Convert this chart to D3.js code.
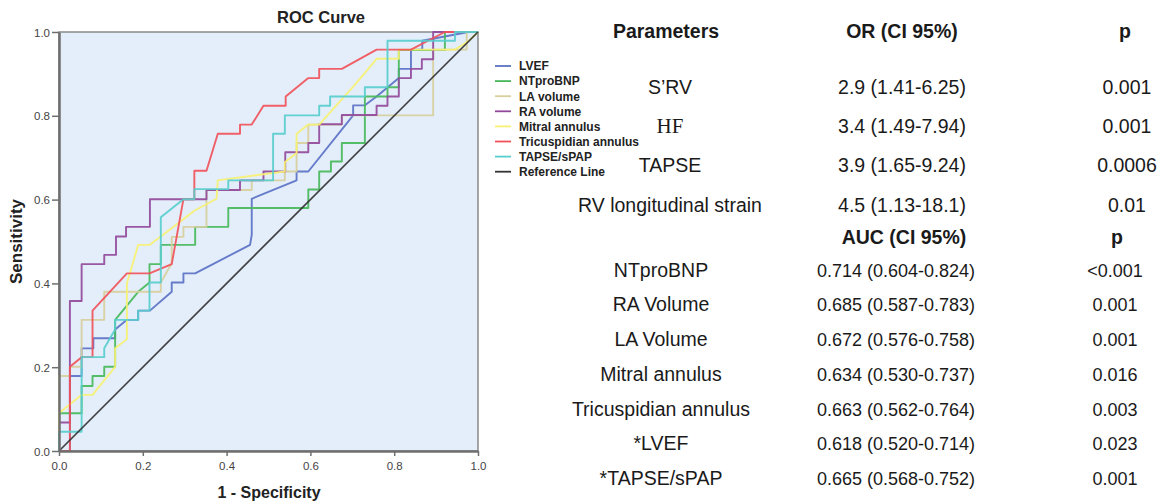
<!DOCTYPE html>
<html>
<head>
<meta charset="utf-8">
<script src="https://cdn.jsdelivr.net/npm/d3@7/dist/d3.min.js"></script>
<style>
  html, body { margin: 0; padding: 0; background: #fff; }
  svg { display: block; font-family: "Liberation Sans", Arial, sans-serif; }
</style>
</head>
<body>
<svg id="chart" width="1164" height="502"></svg>
<script>
// ROC curve points, [1 - specificity, sensitivity]
const lvef = [[0,0],[0.026,0],[0.026,0.179],[0.054,0.179],[0.054,0.245],[0.082,0.245],[0.082,0.269],[0.134,0.269],[0.134,0.290],[0.162,0.313],[0.189,0.313],[0.189,0.335],[0.217,0.335],[0.269,0.380],[0.269,0.402],[0.297,0.402],[0.297,0.424],[0.325,0.424],[0.456,0.492],[0.460,0.516],[0.460,0.602],[0.567,0.646],[0.567,0.667],[0.595,0.667],[0.702,0.801],[0.702,0.825],[0.730,0.825],[0.758,0.846],[0.811,0.890],[0.811,0.912],[0.840,0.912],[0.840,0.958],[0.867,0.958],[0.867,0.979],[0.977,1],[1,1]];
const ntprobnp = [[0,0],[0,0.090],[0.054,0.090],[0.054,0.155],[0.080,0.155],[0.080,0.179],[0.108,0.179],[0.108,0.201],[0.134,0.201],[0.134,0.313],[0.189,0.380],[0.216,0.402],[0.216,0.446],[0.243,0.446],[0.243,0.492],[0.325,0.492],[0.325,0.535],[0.404,0.535],[0.404,0.580],[0.595,0.580],[0.595,0.624],[0.621,0.624],[0.621,0.667],[0.649,0.667],[0.649,0.691],[0.675,0.691],[0.675,0.735],[0.730,0.735],[0.730,0.846],[0.784,0.846],[0.784,0.868],[0.811,0.868],[0.811,0.957],[0.921,0.957],[0.921,1],[1,1]];
const laVolume = [[0,0],[0,0.179],[0.026,0.179],[0.026,0.201],[0.054,0.201],[0.054,0.313],[0.108,0.313],[0.108,0.380],[0.243,0.380],[0.243,0.402],[0.269,0.448],[0.269,0.511],[0.297,0.511],[0.297,0.535],[0.352,0.535],[0.352,0.623],[0.460,0.623],[0.460,0.646],[0.539,0.646],[0.539,0.667],[0.567,0.667],[0.567,0.735],[0.595,0.735],[0.595,0.779],[0.675,0.779],[0.675,0.801],[0.893,0.801],[0.893,0.958],[0.973,0.958],[0.973,1],[1,1]];
const raVolume = [[0,0],[0,0.068],[0.026,0.068],[0.026,0.358],[0.054,0.358],[0.054,0.446],[0.108,0.446],[0.108,0.468],[0.136,0.468],[0.136,0.512],[0.160,0.512],[0.160,0.535],[0.217,0.535],[0.217,0.601],[0.352,0.601],[0.352,0.623],[0.432,0.623],[0.432,0.646],[0.488,0.646],[0.488,0.667],[0.540,0.667],[0.540,0.713],[0.595,0.713],[0.595,0.735],[0.621,0.735],[0.621,0.780],[0.675,0.780],[0.675,0.802],[0.758,0.802],[0.758,0.824],[0.784,0.824],[0.784,0.846],[0.811,0.846],[0.811,0.890],[0.840,0.890],[0.840,0.912],[0.866,0.912],[0.866,0.935],[0.893,0.935],[0.893,1],[1,1]];
const mitralAnnulus = [[0,0],[0,0.090],[0.054,0.134],[0.080,0.134],[0.134,0.201],[0.134,0.245],[0.162,0.267],[0.162,0.400],[0.189,0.492],[0.217,0.492],[0.324,0.574],[0.376,0.602],[0.379,0.646],[0.539,0.667],[0.539,0.689],[0.567,0.711],[0.567,0.757],[0.595,0.779],[0.621,0.779],[0.671,0.835],[0.706,0.874],[0.758,0.936],[0.811,0.936],[0.811,0.958],[0.945,0.958],[0.977,0.978],[1,1]];
const tricuspidAnnulus = [[0,0],[0.026,0],[0.026,0.201],[0.054,0.224],[0.080,0.224],[0.080,0.335],[0.162,0.424],[0.216,0.424],[0.269,0.446],[0.297,0.601],[0.323,0.601],[0.323,0.669],[0.352,0.669],[0.379,0.757],[0.432,0.757],[0.432,0.779],[0.460,0.779],[0.488,0.824],[0.541,0.824],[0.541,0.846],[0.595,0.890],[0.621,0.890],[0.621,0.912],[0.675,0.912],[0.758,0.958],[0.840,0.958],[0.921,1],[1,1]];
const tapseSpap = [[0,0],[0,0.046],[0.054,0.046],[0.054,0.224],[0.108,0.224],[0.108,0.245],[0.134,0.290],[0.134,0.313],[0.189,0.313],[0.189,0.335],[0.216,0.335],[0.216,0.402],[0.243,0.402],[0.243,0.558],[0.297,0.601],[0.323,0.601],[0.323,0.625],[0.404,0.625],[0.404,0.646],[0.511,0.646],[0.511,0.757],[0.539,0.757],[0.539,0.801],[0.621,0.801],[0.621,0.824],[0.647,0.824],[0.647,0.846],[0.730,0.846],[0.730,0.868],[0.784,0.868],[0.784,0.979],[0.945,0.979],[0.945,1],[1,1]];
const referenceLine = [[0,0],[1,1]];

const seriesNames = ["LVEF","NTproBNP","LA volume","RA volume","Mitral annulus","Tricuspidian annulus","TAPSE/sPAP","Reference Line"];
const seriesData = [lvef, ntprobnp, laVolume, raVolume, mitralAnnulus, tricuspidAnnulus, tapseSpap, referenceLine];
const seriesColors = ["#5b71c6","#46b85a","#d7cf9d","#93499b","#f7f172","#f1525a","#58cdcd","#333333"];

const axisTicks = [0, 0.2, 0.4, 0.6, 0.8, 1.0];

// Odds ratio table
const orParams = ["S\u2019RV","HF","TAPSE","RV longitudinal strain"];
const orValues = ["2.9 (1.41-6.25)","3.4 (1.49-7.94)","3.9 (1.65-9.24)","4.5 (1.13-18.1)"];
const orP = ["0.001","0.001","0.0006","0.01"];

// AUC table
const aucParams = ["NTproBNP","RA Volume","LA Volume","Mitral annulus","Tricuspidian annulus","*LVEF","*TAPSE/sPAP"];
const aucValues = ["0.714 (0.604-0.824)","0.685 (0.587-0.783)","0.672 (0.576-0.758)","0.634 (0.530-0.737)","0.663 (0.562-0.764)","0.618 (0.520-0.714)","0.665 (0.568-0.752)"];
const aucP = ["<0.001","0.001","0.001","0.016","0.003","0.023","0.001"];

const svg = d3.select("#chart");

const plot = { left: 59, right: 478, top: 32, bottom: 451 };
const x = d3.scaleLinear().domain([0, 1]).range([plot.left, plot.right]);
const y = d3.scaleLinear().domain([0, 1]).range([plot.bottom, plot.top]);

// plot background and frame
svg.append("rect")
  .attr("x", plot.left).attr("y", plot.top)
  .attr("width", plot.right - plot.left).attr("height", plot.bottom - plot.top)
  .attr("fill", "#e3eefa")
  .attr("stroke", "#8a8a8a").attr("stroke-width", 1.5);

// curves
const line = d3.line().x(d => x(d[0])).y(d => y(d[1]));
const drawOrder = [0, 1, 2, 3, 4, 5, 6, 7];
svg.append("g").selectAll("path")
  .data(drawOrder)
  .join("path")
  .attr("d", i => line(seriesData[i]))
  .attr("fill", "none")
  .attr("stroke", i => seriesColors[i])
  .attr("stroke-width", i => i === 7 ? 1.7 : 1.9)
  .attr("stroke-linejoin", "round")
  .attr("opacity", 0.92);

// axes
const yAxis = svg.append("g")
  .attr("transform", `translate(${plot.left},0)`)
  .call(d3.axisLeft(y).tickValues(axisTicks).tickFormat(d3.format(".1f")).tickSize(7).tickSizeOuter(0));
const xAxis = svg.append("g")
  .attr("transform", `translate(0,${plot.bottom})`)
  .call(d3.axisBottom(x).tickValues(axisTicks).tickFormat(d3.format(".1f")).tickSize(5).tickSizeOuter(0));

[yAxis, xAxis].forEach(g => {
  g.select(".domain").attr("stroke", "#6f6f6f").attr("stroke-width", 2.5);
  g.selectAll(".tick line").attr("stroke", "#6f6f6f").attr("stroke-width", 1.5);
  g.selectAll(".tick text")
    .attr("fill", "#444")
    .style("font-size", "11.5px")
    .style("font-family", "'Liberation Sans', Arial, sans-serif");
});
yAxis.selectAll(".tick text").attr("x", -9).attr("dy", "0.36em");
xAxis.selectAll(".tick text").attr("y", 11);

// titles
svg.append("text")
  .attr("x", 321).attr("y", 23)
  .attr("text-anchor", "middle")
  .attr("font-weight", "bold").attr("font-size", 16.5)
  .attr("fill", "#222")
  .text("ROC Curve");

svg.append("text")
  .attr("x", 269).attr("y", 498)
  .attr("text-anchor", "middle")
  .attr("font-weight", "bold").attr("font-size", 16)
  .attr("fill", "#222")
  .text("1 - Specificity");

svg.append("text")
  .attr("transform", `translate(22,${(plot.top + plot.bottom) / 2}) rotate(-90)`)
  .attr("text-anchor", "middle")
  .attr("font-weight", "bold").attr("font-size", 17)
  .attr("fill", "#222")
  .text("Sensitivity");

// legend
const legend = svg.append("g").attr("transform", "translate(495,66)");
const legendRows = legend.selectAll("g")
  .data(seriesNames)
  .join("g")
  .attr("transform", (d, i) => `translate(0,${i * 15.1})`);
legendRows.append("line")
  .attr("x1", 0).attr("x2", 16)
  .attr("stroke", (d, i) => seriesColors[i])
  .attr("stroke-width", 1.8);
legendRows.append("text")
  .attr("x", 24).attr("dy", "0.36em")
  .attr("font-weight", "bold").attr("font-size", 12)
  .attr("fill", "#222")
  .text(d => d);

// tables
const table = svg.append("g").style("font-family", "'Liberation Sans', Arial, sans-serif").attr("fill", "#1a1a1a");

function cell(xPos, yPos, text, opts = {}) {
  table.append("text")
    .attr("x", xPos).attr("y", yPos)
    .attr("text-anchor", "middle")
    .attr("font-size", opts.size || 19.5)
    .attr("font-weight", opts.bold ? "bold" : "normal")
    .style("font-family", opts.serif ? "'Liberation Serif', 'Times New Roman', serif" : null)
    .text(text);
}

cell(666, 38, "Parameters", { bold: true });
cell(902, 38, "OR (CI 95%)", { bold: true });
cell(1125, 38, "p", { bold: true });

const orRows = [94, 133, 172, 212];
orParams.forEach((p, i) => {
  cell(670, orRows[i], p, p === "HF" ? { serif: true, size: 21 } : {});
  cell(902, orRows[i], orValues[i]);
  cell(1127, orRows[i], orP[i]);
});

cell(904, 244, "AUC (CI 95%)", { bold: true });
cell(1117, 244, "p", { bold: true });

const aucRows = [277, 311, 346, 381, 416, 450, 485];
aucParams.forEach((p, i) => {
  cell(661, aucRows[i], p);
  cell(896, aucRows[i], aucValues[i], { size: 18 });
  cell(1115, aucRows[i], aucP[i], { size: 18 });
});
</script>
</body>
</html>
